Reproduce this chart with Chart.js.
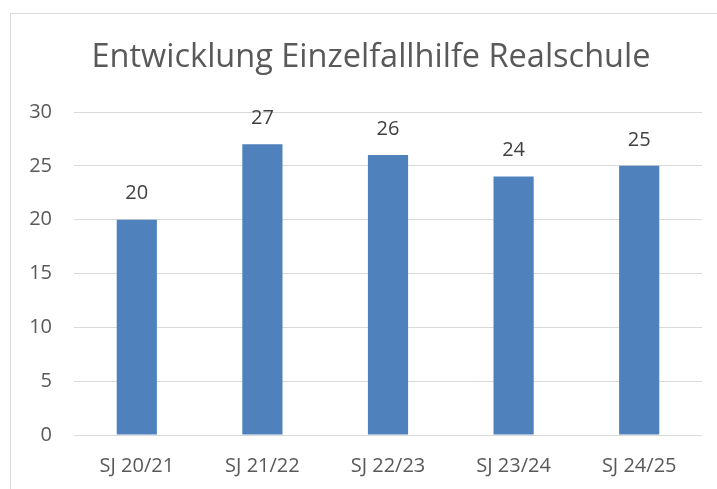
<!DOCTYPE html>
<html>
<head>
<meta charset="utf-8">
<script src="https://cdn.jsdelivr.net/npm/chart.js@4.4.1/dist/chart.umd.min.js"></script>
<style>
  html, body { margin: 0; padding: 0; background: #fff; }
  #wrap { position: relative; width: 717px; height: 489px; overflow: hidden; }
  #frame { position: absolute; left: 10px; top: 13px; width: 730px; height: 500px; border: 1px solid #d9d9d9; pointer-events: none; }
  canvas { position: absolute; left: 0; top: 0; }
</style>
</head>
<body>
<div id="wrap">
  <canvas id="chart" width="717" height="489"></canvas>
  <div id="frame"></div>
</div>
<script>
const schoolYears = ["SJ 20/21", "SJ 21/22", "SJ 22/23", "SJ 23/24", "SJ 24/25"];
const caseCounts = [20, 27, 26, 24, 25];
const yTicks = [0, 5, 10, 15, 20, 25, 30];
const chartTitle = "Entwicklung Einzelfallhilfe Realschule";

const FONT = "'Open Sans', sans-serif";

// value above each bar + title centred on the (wider) chart frame
const extras = {
  id: "extras",
  afterDatasetsDraw(chart) {
    const ctx = chart.ctx;
    const meta = chart.getDatasetMeta(0);
    ctx.save();
    ctx.font = `20px ${FONT}`;
    ctx.fillStyle = "#404040";
    ctx.textAlign = "center";
    ctx.textBaseline = "middle";
    meta.data.forEach((bar, i) => {
      ctx.fillText(String(caseCounts[i]), bar.x, bar.y - 26);
    });
    ctx.font = `32.5px ${FONT}`;
    ctx.fillStyle = "#595959";
    ctx.fillText(chartTitle, 371, 58);
    ctx.restore();
  }
};

new Chart(document.getElementById("chart"), {
  type: "bar",
  data: {
    labels: schoolYears,
    datasets: [{
      data: caseCounts,
      backgroundColor: "#4f81bd",
      categoryPercentage: 1,
      barPercentage: 0.32
    }]
  },
  options: {
    responsive: false,
    animation: false,
    layout: { padding: { left: 0, right: 15, top: 112, bottom: 0 } },
    plugins: {
      legend: { display: false },
      tooltip: { enabled: false },
      title: { display: false }
    },
    scales: {
      x: {
        grid: { display: false, drawTicks: false },
        border: { display: false },
        ticks: { color: "#595959", font: { family: FONT, size: 20 }, padding: 19 },
        afterFit(scale) { scale.height = 54; }
      },
      y: {
        min: 0,
        max: 30,
        afterBuildTicks(scale) { scale.ticks = yTicks.map(v => ({ value: v })); },
        grid: { color: "#d9d9d9", drawTicks: false },
        border: { display: false },
        ticks: { color: "#595959", font: { family: FONT, size: 20 }, padding: 22 },
        afterFit(scale) { scale.width = 74; }
      }
    }
  },
  plugins: [extras]
});
</script>
</body>
</html>
